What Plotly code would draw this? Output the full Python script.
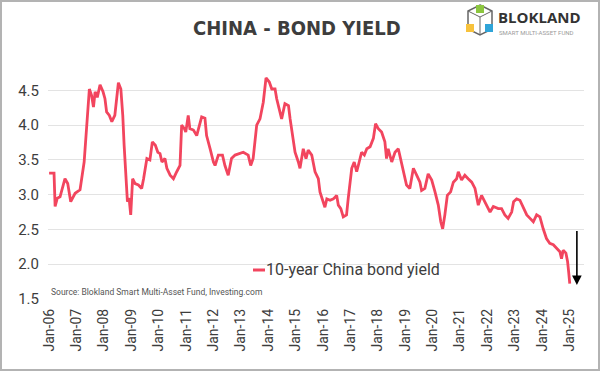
import plotly.graph_objects as go

# ---- data ----
year_pos = [
    2006.00, 2006.18, 2006.22, 2006.30, 2006.40, 2006.58, 2006.68, 2006.79, 2006.95,
    2007.13, 2007.28, 2007.38, 2007.47, 2007.55, 2007.62, 2007.68, 2007.76, 2007.86, 2007.97,
    2008.04, 2008.10, 2008.20, 2008.29, 2008.40, 2008.47, 2008.53, 2008.62, 2008.69, 2008.74,
    2008.80, 2008.86, 2008.92, 2008.98, 2009.05, 2009.14, 2009.26, 2009.38, 2009.45, 2009.57,
    2009.68, 2009.77, 2009.88, 2009.97, 2010.05, 2010.12, 2010.23, 2010.30, 2010.42, 2010.54,
    2010.66, 2010.78, 2010.84, 2010.94, 2010.99, 2011.08, 2011.14, 2011.27, 2011.39, 2011.51,
    2011.57, 2011.69, 2011.75, 2011.88, 2012.00, 2012.06, 2012.18, 2012.33, 2012.42, 2012.54,
    2012.66, 2012.79, 2012.95, 2013.09, 2013.27, 2013.36, 2013.45, 2013.58, 2013.70, 2013.82,
    2013.92, 2014.04, 2014.13, 2014.25, 2014.31, 2014.43, 2014.49, 2014.61, 2014.74, 2014.80,
    2014.89, 2014.98, 2015.10, 2015.16, 2015.28, 2015.38, 2015.46, 2015.59, 2015.71, 2015.83,
    2015.89, 2016.01, 2016.07, 2016.14, 2016.26, 2016.38, 2016.50, 2016.56, 2016.65, 2016.74,
    2016.86, 2016.92, 2016.99, 2017.05, 2017.14, 2017.23, 2017.29, 2017.41, 2017.51, 2017.60,
    2017.72, 2017.84, 2017.92, 2018.02, 2018.14, 2018.26, 2018.32, 2018.38, 2018.51, 2018.63,
    2018.75, 2018.85, 2018.93, 2019.05, 2019.17, 2019.30, 2019.42, 2019.54, 2019.60, 2019.72,
    2019.84, 2019.97, 2020.09, 2020.21, 2020.30, 2020.37, 2020.45, 2020.54, 2020.66, 2020.76,
    2020.88, 2020.94, 2021.06, 2021.18, 2021.30, 2021.43, 2021.55, 2021.67, 2021.79, 2021.91,
    2022.10, 2022.22, 2022.40, 2022.52, 2022.64, 2022.76, 2022.89, 2022.96, 2023.07, 2023.19,
    2023.31, 2023.44, 2023.56, 2023.68, 2023.80, 2023.92, 2024.04, 2024.16, 2024.28, 2024.41,
    2024.53, 2024.65, 2024.71, 2024.77, 2024.87, 2024.93, 2024.97, 2025.01,
]
yield_pct = [
    3.31, 3.31, 2.83, 2.95, 2.97, 3.23, 3.16, 2.90, 3.02,
    3.07, 3.47, 3.99, 4.52, 4.43, 4.26, 4.48, 4.40, 4.58, 4.48,
    4.38, 4.19, 4.14, 4.05, 4.14, 4.38, 4.61, 4.52, 4.14, 3.71,
    3.28, 2.90, 2.95, 2.71, 3.23, 3.16, 3.14, 3.09, 3.23, 3.52,
    3.50, 3.76, 3.71, 3.61, 3.59, 3.47, 3.52, 3.38, 3.28, 3.23,
    3.33, 3.42, 4.00, 3.95, 3.90, 4.14, 3.95, 3.93, 3.85, 4.05,
    4.12, 4.10, 3.85, 3.66, 3.47, 3.42, 3.57, 3.57, 3.42, 3.28,
    3.52, 3.57, 3.59, 3.61, 3.57, 3.42, 3.52, 4.00, 4.09, 4.33,
    4.68, 4.62, 4.52, 4.52, 4.38, 4.19, 4.09, 4.31, 4.28, 4.09,
    3.81, 3.61, 3.47, 3.38, 3.66, 3.52, 3.64, 3.57, 3.33, 3.23,
    3.04, 2.90, 2.82, 2.94, 2.92, 2.94, 2.99, 2.85, 2.80, 2.68,
    2.71, 2.94, 3.23, 3.38, 3.47, 3.33, 3.42, 3.61, 3.57, 3.66,
    3.69, 3.81, 4.02, 3.95, 3.90, 3.76, 3.52, 3.66, 3.47, 3.61,
    3.66, 3.47, 3.33, 3.14, 3.09, 3.38, 3.28, 3.18, 3.06, 3.09,
    3.30, 3.21, 3.04, 2.85, 2.61, 2.51, 2.71, 2.99, 3.04, 3.18,
    3.23, 3.33, 3.21, 3.28, 3.23, 3.18, 3.09, 2.85, 2.99, 2.90,
    2.75, 2.83, 2.80, 2.80, 2.71, 2.66, 2.75, 2.90, 2.94, 2.92,
    2.83, 2.71, 2.66, 2.61, 2.71, 2.68, 2.51, 2.37, 2.30, 2.28,
    2.23, 2.18, 2.08, 2.20, 2.16, 2.04, 1.89, 1.72,
]
tick_years = list(range(2006, 2026))
tick_labels = ["Jan-06", "Jan-07", "Jan-08", "Jan-09", "Jan-10", "Jan-11", "Jan-12",
               "Jan-13", "Jan-14", "Jan-15", "Jan-16", "Jan-17", "Jan-18", "Jan-19",
               "Jan-20", "Jan-21", "Jan-22", "Jan-23", "Jan-24", "Jan-25"]
y_ticks = [1.5, 2.0, 2.5, 3.0, 3.5, 4.0, 4.5]
series_name = "10-year China bond yield"
arrow_from = 2.5
arrow_to = 1.70
arrow_year = 2025.27

# ---- layout geometry ----
W, H = 600, 371
ML, MR, MT, MB = 48, 16, 73, 72
PW, PH = W - ML - MR, H - MT - MB


def px(xp):
    return (xp - ML) / PW


def py(yp):
    return (H - MB - yp) / PH


RED = "#F2455E"
DARK = "#3d3d3d"

fig = go.Figure()
fig.add_trace(go.Scatter(
    x=year_pos, y=yield_pct, mode="lines", name=series_name,
    line=dict(color=RED, width=2.8), showlegend=False,
))

fig.update_layout(
    template="none",
    width=W, height=H,
    margin=dict(l=ML, r=MR, t=MT, b=MB, pad=0),
    paper_bgcolor="white", plot_bgcolor="white",
    font=dict(family="Roboto, Arial, sans-serif", color=DARK),
    xaxis=dict(
        range=[2005.96, 2025.53], tickmode="array", tickvals=tick_years,
        ticktext=tick_labels, tickangle=-90, showgrid=False, zeroline=False,
        showline=False, ticks="", tickfont=dict(size=14, color=DARK),
        ticklabelstandoff=6, automargin=False,
    ),
    yaxis=dict(
        range=[1.5, 4.75], tickmode="array", tickvals=y_ticks,
        ticktext=[f"{v:.1f}" for v in y_ticks], showgrid=True,
        gridcolor="#e3e3e3", gridwidth=1, zeroline=False, showline=False,
        ticks="", tickfont=dict(size=15, color=DARK), ticklabelstandoff=8,
        automargin=False,
    ),
)

annotations = [
    dict(text="<b>CHINA - BOND YIELD</b>", xref="paper", yref="paper",
         x=px(297), y=py(28), xanchor="center", yanchor="middle", showarrow=False,
         font=dict(family="DejaVu Sans Condensed, Liberation Sans Narrow, Arial Narrow, Roboto, sans-serif",
                   size=20, color=DARK)),
    dict(text=series_name,
         xref="paper", yref="paper", x=px(264), y=py(269), xanchor="left",
         yanchor="middle", showarrow=False,
         font=dict(family="Roboto, Arial, sans-serif", size=16, color=DARK)),
    dict(text="Source: Blokland Smart Multi-Asset Fund, Investing.com",
         xref="paper", yref="paper", x=px(49), y=py(292), xanchor="left",
         yanchor="middle", showarrow=False,
         font=dict(family="Roboto, Arial, sans-serif", size=8.5, color="#555555")),
    dict(x=arrow_year, y=arrow_to, ax=arrow_year, ay=arrow_from,
         xref="x", yref="y", axref="x", ayref="y", text="", showarrow=True,
         arrowhead=2, arrowsize=1.2, arrowwidth=1.6, arrowcolor="black"),
    dict(text="<b>BLOKLAND</b>", xref="paper", yref="paper", x=px(496), y=py(17),
         xanchor="left", yanchor="middle", showarrow=False,
         font=dict(family="Open Sans, Arial, sans-serif", size=15, color="#333333")),
    dict(text="SMART MULTI-ASSET FUND", xref="paper", yref="paper", x=px(497), y=py(32),
         xanchor="left", yanchor="middle", showarrow=False,
         font=dict(family="Roboto, Arial, sans-serif", size=6, color="#9a9a9a")),
]
fig.update_layout(annotations=annotations)

# legend sample, logo icon and frame
shapes = [dict(type="line", xref="paper", yref="paper", x0=px(253), x1=px(265),
               y0=py(270), y1=py(270), line=dict(color=RED, width=3))]
hx = [480, 492, 492, 480, 468, 468, 480]
hy = [5, 11, 29, 35, 29, 11, 5]
path = "M " + " L ".join(f"{px(a)},{py(b)}" for a, b in zip(hx, hy)) + " Z"
shapes.append(dict(type="path", path=path, xref="paper", yref="paper",
                   line=dict(color="#666666", width=1.5)))
inner = "M {} {} L {} {} L {} {} M {} {} L {} {}".format(
    px(468), py(11), px(480), py(17), px(492), py(11), px(480), py(17), px(480), py(35))
shapes.append(dict(type="path", path=inner, xref="paper", yref="paper",
                   line=dict(color="#666666", width=1)))
for (cx, cy, col) in [(480, 9, "#8cc63f"), (470, 28, "#f7c23c"), (489, 28, "#2fa4d8")]:
    shapes.append(dict(type="rect", xref="paper", yref="paper",
                       x0=px(cx - 4), x1=px(cx + 4), y0=py(cy + 4), y1=py(cy - 4),
                       fillcolor=col, line=dict(width=0)))
shapes.append(dict(type="rect", xref="paper", yref="paper",
                   x0=px(1), x1=px(W - 1), y0=py(H - 1), y1=py(1),
                   line=dict(color="#b3b3b3", width=2), fillcolor="rgba(0,0,0,0)"))
fig.update_layout(shapes=shapes)

fig.write_html("out.html", config={"displayModeBar": False},
               post_script="document.body.style.margin='0';document.body.style.overflow='hidden';")
